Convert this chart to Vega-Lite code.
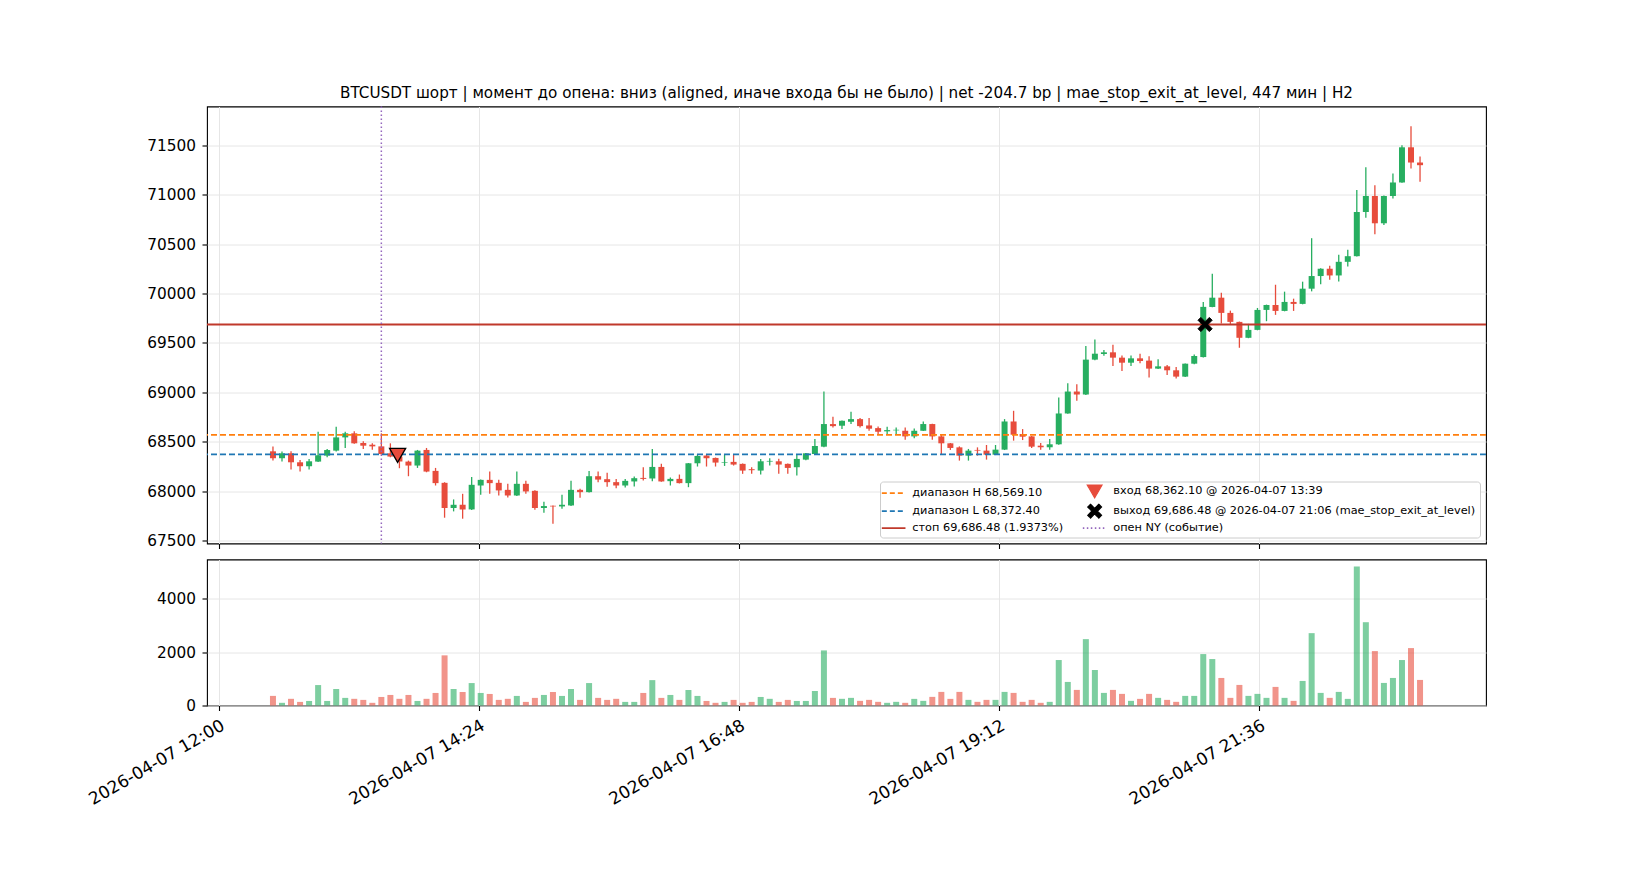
{
  "$schema": "https://vega.github.io/schema/vega-lite/v6.json",
  "background": "white",
  "padding": {"left": 85, "top": 84.5, "right": 10, "bottom": 10},
  "spacing": 16,
  "bounds": "flush",
  "datasets": {
    "candles": [
      {"t": "2026-04-07 12:30", "o": 68403, "h": 68453, "l": 68309, "c": 68333, "v": 360},
      {"t": "2026-04-07 12:35", "o": 68333, "h": 68400, "l": 68299, "c": 68383, "v": 100},
      {"t": "2026-04-07 12:40", "o": 68383, "h": 68403, "l": 68218, "c": 68292, "v": 250},
      {"t": "2026-04-07 12:45", "o": 68292, "h": 68316, "l": 68198, "c": 68252, "v": 135},
      {"t": "2026-04-07 12:50", "o": 68252, "h": 68326, "l": 68218, "c": 68302, "v": 170},
      {"t": "2026-04-07 12:55", "o": 68299, "h": 68601, "l": 68296, "c": 68363, "v": 765},
      {"t": "2026-04-07 13:00", "o": 68359, "h": 68427, "l": 68343, "c": 68416, "v": 170},
      {"t": "2026-04-07 13:05", "o": 68410, "h": 68652, "l": 68400, "c": 68544, "v": 617},
      {"t": "2026-04-07 13:10", "o": 68544, "h": 68601, "l": 68437, "c": 68585, "v": 285},
      {"t": "2026-04-07 13:15", "o": 68585, "h": 68605, "l": 68480, "c": 68484, "v": 250},
      {"t": "2026-04-07 13:20", "o": 68487, "h": 68504, "l": 68427, "c": 68460, "v": 210},
      {"t": "2026-04-07 13:25", "o": 68470, "h": 68484, "l": 68420, "c": 68453, "v": 100},
      {"t": "2026-04-07 13:30", "o": 68453, "h": 68585, "l": 68369, "c": 68376, "v": 320},
      {"t": "2026-04-07 13:35", "o": 68383, "h": 68484, "l": 68343, "c": 68350, "v": 395},
      {"t": "2026-04-07 13:40", "o": 68350, "h": 68380, "l": 68232, "c": 68300, "v": 250},
      {"t": "2026-04-07 13:45", "o": 68299, "h": 68309, "l": 68151, "c": 68259, "v": 395},
      {"t": "2026-04-07 13:50", "o": 68259, "h": 68417, "l": 68235, "c": 68410, "v": 170},
      {"t": "2026-04-07 13:55", "o": 68417, "h": 68437, "l": 68191, "c": 68198, "v": 250},
      {"t": "2026-04-07 14:00", "o": 68205, "h": 68235, "l": 68057, "c": 68081, "v": 470},
      {"t": "2026-04-07 14:05", "o": 68084, "h": 68090, "l": 67731, "c": 67829, "v": 1877},
      {"t": "2026-04-07 14:10", "o": 67829, "h": 67916, "l": 67795, "c": 67862, "v": 617},
      {"t": "2026-04-07 14:15", "o": 67862, "h": 67973, "l": 67721, "c": 67815, "v": 506},
      {"t": "2026-04-07 14:20", "o": 67815, "h": 68144, "l": 67810, "c": 68064, "v": 840},
      {"t": "2026-04-07 14:25", "o": 68057, "h": 68118, "l": 67963, "c": 68114, "v": 470},
      {"t": "2026-04-07 14:30", "o": 68114, "h": 68198, "l": 67973, "c": 68081, "v": 432},
      {"t": "2026-04-07 14:35", "o": 68084, "h": 68114, "l": 67956, "c": 68007, "v": 210},
      {"t": "2026-04-07 14:40", "o": 68013, "h": 68074, "l": 67936, "c": 67956, "v": 250},
      {"t": "2026-04-07 14:45", "o": 67956, "h": 68198, "l": 67950, "c": 68074, "v": 358},
      {"t": "2026-04-07 14:50", "o": 68074, "h": 68104, "l": 67973, "c": 67997, "v": 135},
      {"t": "2026-04-07 14:55", "o": 68003, "h": 68010, "l": 67812, "c": 67829, "v": 285},
      {"t": "2026-04-07 15:00", "o": 67829, "h": 67892, "l": 67781, "c": 67849, "v": 395},
      {"t": "2026-04-07 15:05", "o": 67852, "h": 67855, "l": 67671, "c": 67845, "v": 506},
      {"t": "2026-04-07 15:10", "o": 67845, "h": 67963, "l": 67822, "c": 67862, "v": 358},
      {"t": "2026-04-07 15:15", "o": 67855, "h": 68104, "l": 67850, "c": 68013, "v": 617},
      {"t": "2026-04-07 15:20", "o": 68013, "h": 68023, "l": 67933, "c": 67990, "v": 210},
      {"t": "2026-04-07 15:25", "o": 67990, "h": 68205, "l": 67985, "c": 68151, "v": 840},
      {"t": "2026-04-07 15:30", "o": 68151, "h": 68198, "l": 68091, "c": 68117, "v": 285},
      {"t": "2026-04-07 15:35", "o": 68121, "h": 68185, "l": 68044, "c": 68091, "v": 210},
      {"t": "2026-04-07 15:40", "o": 68091, "h": 68124, "l": 68030, "c": 68057, "v": 250},
      {"t": "2026-04-07 15:45", "o": 68057, "h": 68124, "l": 68037, "c": 68104, "v": 135},
      {"t": "2026-04-07 15:50", "o": 68098, "h": 68148, "l": 68047, "c": 68131, "v": 135},
      {"t": "2026-04-07 15:55", "o": 68134, "h": 68242, "l": 68108, "c": 68124, "v": 470},
      {"t": "2026-04-07 16:00", "o": 68128, "h": 68427, "l": 68101, "c": 68245, "v": 950},
      {"t": "2026-04-07 16:05", "o": 68245, "h": 68276, "l": 68095, "c": 68098, "v": 285},
      {"t": "2026-04-07 16:10", "o": 68101, "h": 68138, "l": 68057, "c": 68124, "v": 395},
      {"t": "2026-04-07 16:15", "o": 68124, "h": 68168, "l": 68078, "c": 68081, "v": 210},
      {"t": "2026-04-07 16:20", "o": 68081, "h": 68285, "l": 68040, "c": 68282, "v": 580},
      {"t": "2026-04-07 16:25", "o": 68282, "h": 68370, "l": 68249, "c": 68356, "v": 358},
      {"t": "2026-04-07 16:30", "o": 68360, "h": 68370, "l": 68249, "c": 68333, "v": 170},
      {"t": "2026-04-07 16:35", "o": 68336, "h": 68340, "l": 68249, "c": 68289, "v": 100},
      {"t": "2026-04-07 16:40", "o": 68286, "h": 68370, "l": 68255, "c": 68292, "v": 135},
      {"t": "2026-04-07 16:45", "o": 68296, "h": 68370, "l": 68259, "c": 68269, "v": 210},
      {"t": "2026-04-07 16:50", "o": 68276, "h": 68280, "l": 68175, "c": 68208, "v": 100},
      {"t": "2026-04-07 16:55", "o": 68222, "h": 68242, "l": 68175, "c": 68212, "v": 135},
      {"t": "2026-04-07 17:00", "o": 68208, "h": 68326, "l": 68168, "c": 68302, "v": 320},
      {"t": "2026-04-07 17:05", "o": 68299, "h": 68333, "l": 68259, "c": 68306, "v": 250},
      {"t": "2026-04-07 17:10", "o": 68302, "h": 68329, "l": 68175, "c": 68269, "v": 135},
      {"t": "2026-04-07 17:15", "o": 68276, "h": 68280, "l": 68175, "c": 68235, "v": 210},
      {"t": "2026-04-07 17:20", "o": 68242, "h": 68366, "l": 68158, "c": 68326, "v": 170},
      {"t": "2026-04-07 17:25", "o": 68319, "h": 68386, "l": 68313, "c": 68383, "v": 170},
      {"t": "2026-04-07 17:30", "o": 68376, "h": 68528, "l": 68372, "c": 68457, "v": 543},
      {"t": "2026-04-07 17:35", "o": 68450, "h": 69008, "l": 68445, "c": 68679, "v": 2062},
      {"t": "2026-04-07 17:40", "o": 68679, "h": 68753, "l": 68645, "c": 68658, "v": 285},
      {"t": "2026-04-07 17:45", "o": 68662, "h": 68715, "l": 68628, "c": 68712, "v": 250},
      {"t": "2026-04-07 17:50", "o": 68702, "h": 68803, "l": 68679, "c": 68729, "v": 286},
      {"t": "2026-04-07 17:55", "o": 68729, "h": 68739, "l": 68645, "c": 68658, "v": 174},
      {"t": "2026-04-07 18:00", "o": 68665, "h": 68739, "l": 68611, "c": 68632, "v": 211},
      {"t": "2026-04-07 18:05", "o": 68638, "h": 68655, "l": 68578, "c": 68601, "v": 137},
      {"t": "2026-04-07 18:10", "o": 68605, "h": 68652, "l": 68571, "c": 68618, "v": 100},
      {"t": "2026-04-07 18:15", "o": 68615, "h": 68645, "l": 68571, "c": 68621, "v": 137},
      {"t": "2026-04-07 18:20", "o": 68611, "h": 68645, "l": 68521, "c": 68554, "v": 100},
      {"t": "2026-04-07 18:25", "o": 68554, "h": 68635, "l": 68534, "c": 68611, "v": 248},
      {"t": "2026-04-07 18:30", "o": 68611, "h": 68705, "l": 68608, "c": 68679, "v": 174},
      {"t": "2026-04-07 18:35", "o": 68679, "h": 68682, "l": 68521, "c": 68554, "v": 323},
      {"t": "2026-04-07 18:40", "o": 68554, "h": 68578, "l": 68376, "c": 68484, "v": 509},
      {"t": "2026-04-07 18:45", "o": 68484, "h": 68487, "l": 68417, "c": 68437, "v": 248},
      {"t": "2026-04-07 18:50", "o": 68443, "h": 68453, "l": 68309, "c": 68359, "v": 509},
      {"t": "2026-04-07 18:55", "o": 68359, "h": 68427, "l": 68309, "c": 68410, "v": 211},
      {"t": "2026-04-07 19:00", "o": 68417, "h": 68443, "l": 68359, "c": 68410, "v": 137},
      {"t": "2026-04-07 19:05", "o": 68410, "h": 68467, "l": 68319, "c": 68369, "v": 211},
      {"t": "2026-04-07 19:10", "o": 68369, "h": 68467, "l": 68365, "c": 68420, "v": 211},
      {"t": "2026-04-07 19:15", "o": 68420, "h": 68729, "l": 68416, "c": 68705, "v": 509},
      {"t": "2026-04-07 19:20", "o": 68705, "h": 68813, "l": 68511, "c": 68571, "v": 472},
      {"t": "2026-04-07 19:25", "o": 68578, "h": 68628, "l": 68517, "c": 68551, "v": 137},
      {"t": "2026-04-07 19:30", "o": 68554, "h": 68558, "l": 68437, "c": 68450, "v": 211},
      {"t": "2026-04-07 19:35", "o": 68460, "h": 68487, "l": 68420, "c": 68444, "v": 100},
      {"t": "2026-04-07 19:40", "o": 68444, "h": 68528, "l": 68420, "c": 68474, "v": 137},
      {"t": "2026-04-07 19:45", "o": 68474, "h": 68948, "l": 68470, "c": 68786, "v": 1702},
      {"t": "2026-04-07 19:50", "o": 68786, "h": 69092, "l": 68782, "c": 69008, "v": 882},
      {"t": "2026-04-07 19:55", "o": 69008, "h": 69082, "l": 68914, "c": 68978, "v": 584},
      {"t": "2026-04-07 20:00", "o": 68978, "h": 69468, "l": 68974, "c": 69331, "v": 2484},
      {"t": "2026-04-07 20:05", "o": 69331, "h": 69536, "l": 69324, "c": 69391, "v": 1329},
      {"t": "2026-04-07 20:10", "o": 69388, "h": 69428, "l": 69371, "c": 69405, "v": 472},
      {"t": "2026-04-07 20:15", "o": 69405, "h": 69482, "l": 69267, "c": 69351, "v": 584},
      {"t": "2026-04-07 20:20", "o": 69351, "h": 69374, "l": 69216, "c": 69300, "v": 435},
      {"t": "2026-04-07 20:25", "o": 69300, "h": 69374, "l": 69267, "c": 69344, "v": 174},
      {"t": "2026-04-07 20:30", "o": 69344, "h": 69391, "l": 69294, "c": 69317, "v": 248},
      {"t": "2026-04-07 20:35", "o": 69321, "h": 69364, "l": 69149, "c": 69240, "v": 435},
      {"t": "2026-04-07 20:40", "o": 69240, "h": 69334, "l": 69236, "c": 69263, "v": 286},
      {"t": "2026-04-07 20:45", "o": 69263, "h": 69277, "l": 69176, "c": 69223, "v": 211},
      {"t": "2026-04-07 20:50", "o": 69223, "h": 69257, "l": 69139, "c": 69159, "v": 137},
      {"t": "2026-04-07 20:55", "o": 69159, "h": 69293, "l": 69155, "c": 69290, "v": 360},
      {"t": "2026-04-07 21:00", "o": 69290, "h": 69384, "l": 69284, "c": 69368, "v": 360},
      {"t": "2026-04-07 21:05", "o": 69357, "h": 69915, "l": 69353, "c": 69865, "v": 1925},
      {"t": "2026-04-07 21:10", "o": 69864, "h": 70200, "l": 69860, "c": 69958, "v": 1739},
      {"t": "2026-04-07 21:15", "o": 69958, "h": 70009, "l": 69696, "c": 69804, "v": 1031},
      {"t": "2026-04-07 21:20", "o": 69804, "h": 69827, "l": 69693, "c": 69713, "v": 286},
      {"t": "2026-04-07 21:25", "o": 69713, "h": 69716, "l": 69451, "c": 69552, "v": 770},
      {"t": "2026-04-07 21:30", "o": 69552, "h": 69693, "l": 69548, "c": 69632, "v": 360},
      {"t": "2026-04-07 21:35", "o": 69632, "h": 69854, "l": 69628, "c": 69834, "v": 435},
      {"t": "2026-04-07 21:40", "o": 69834, "h": 69888, "l": 69720, "c": 69884, "v": 286},
      {"t": "2026-04-07 21:45", "o": 69884, "h": 70089, "l": 69784, "c": 69824, "v": 696},
      {"t": "2026-04-07 21:50", "o": 69824, "h": 70019, "l": 69820, "c": 69915, "v": 286},
      {"t": "2026-04-07 21:55", "o": 69915, "h": 69948, "l": 69824, "c": 69895, "v": 174},
      {"t": "2026-04-07 22:00", "o": 69895, "h": 70120, "l": 69891, "c": 70049, "v": 919},
      {"t": "2026-04-07 22:05", "o": 70049, "h": 70560, "l": 70022, "c": 70177, "v": 2708},
      {"t": "2026-04-07 22:10", "o": 70177, "h": 70255, "l": 70093, "c": 70251, "v": 472},
      {"t": "2026-04-07 22:15", "o": 70251, "h": 70281, "l": 70140, "c": 70183, "v": 286},
      {"t": "2026-04-07 22:20", "o": 70183, "h": 70392, "l": 70123, "c": 70321, "v": 509},
      {"t": "2026-04-07 22:25", "o": 70321, "h": 70442, "l": 70274, "c": 70378, "v": 248},
      {"t": "2026-04-07 22:30", "o": 70378, "h": 71047, "l": 70374, "c": 70825, "v": 5205},
      {"t": "2026-04-07 22:35", "o": 70825, "h": 71279, "l": 70768, "c": 70987, "v": 3118},
      {"t": "2026-04-07 22:40", "o": 70987, "h": 71097, "l": 70600, "c": 70711, "v": 2037},
      {"t": "2026-04-07 22:45", "o": 70711, "h": 70991, "l": 70694, "c": 70987, "v": 845},
      {"t": "2026-04-07 22:50", "o": 70987, "h": 71215, "l": 70963, "c": 71124, "v": 1031},
      {"t": "2026-04-07 22:55", "o": 71124, "h": 71501, "l": 71120, "c": 71480, "v": 1702},
      {"t": "2026-04-07 23:00", "o": 71480, "h": 71692, "l": 71265, "c": 71326, "v": 2149},
      {"t": "2026-04-07 23:05", "o": 71326, "h": 71386, "l": 71131, "c": 71299, "v": 957}
    ],
    "levels": [
      {"key": "H", "price": 68569.1},
      {"key": "L", "price": 68372.4},
      {"key": "stop", "price": 69686.48}
    ],
    "events": [
      {"key": "ny", "t": "2026-04-07 13:30"}
    ],
    "trades": [
      {"key": "entry", "t": "2026-04-07 13:39", "price": 68362.1},
      {"key": "exit", "t": "2026-04-07 21:06", "price": 69686.48}
    ]
  },
  "vconcat": [
    {
      "width": 1279,
      "height": 437,
      "title": {
        "text": "BTCUSDT шорт | момент до опена: вниз (aligned, иначе входа бы не было) | net -204.7 bp | mae_stop_exit_at_level, 447 мин | H2",
        "anchor": "middle",
        "frame": "group",
        "offset": 5
      },
      "layer": [
        {
          "data": {"name": "candles"},
          "mark": {"type": "rule", "strokeWidth": 1.3},
          "encoding": {
            "x": {
              "field": "t", "type": "temporal", "title": null,
              "scale": {"domain": [{"year": 2026, "month": 4, "date": 7, "hours": 11, "minutes": 56, "seconds": 15}, {"year": 2026, "month": 4, "date": 7, "hours": 23, "minutes": 38, "seconds": 45}], "nice": false},
              "axis": {
                "values": [
                  {"year": 2026, "month": 4, "date": 7, "hours": 12, "minutes": 0},
                  {"year": 2026, "month": 4, "date": 7, "hours": 14, "minutes": 24},
                  {"year": 2026, "month": 4, "date": 7, "hours": 16, "minutes": 48},
                  {"year": 2026, "month": 4, "date": 7, "hours": 19, "minutes": 12},
                  {"year": 2026, "month": 4, "date": 7, "hours": 21, "minutes": 36}
                ],
                "labels": false, "ticks": true, "grid": true
              }
            },
            "y": {
              "field": "l", "type": "quantitative", "title": null,
              "scale": {"domain": [67470, 71893], "nice": false, "zero": false},
              "axis": {"values": [67500, 68000, 68500, 69000, 69500, 70000, 70500, 71000, 71500], "format": "d"}
            },
            "y2": {"field": "h"},
            "color": {"condition": {"test": "datum.c >= datum.o", "value": "#27ae60"}, "value": "#e74c3c"}
          }
        },
        {
          "data": {"name": "candles"},
          "mark": {"type": "bar", "size": 6},
          "encoding": {
            "x": {"field": "t", "type": "temporal", "scale": {"domain": [{"year": 2026, "month": 4, "date": 7, "hours": 11, "minutes": 56, "seconds": 15}, {"year": 2026, "month": 4, "date": 7, "hours": 23, "minutes": 38, "seconds": 45}], "nice": false}},
            "y": {"field": "o", "type": "quantitative", "scale": {"domain": [67470, 71893], "nice": false, "zero": false}},
            "y2": {"field": "c"},
            "color": {"condition": {"test": "datum.c >= datum.o", "value": "#27ae60"}, "value": "#e74c3c"}
          }
        },
        {
          "data": {"name": "levels"},
          "mark": {"type": "rule", "strokeWidth": 1.8},
          "encoding": {
            "y": {"field": "price", "type": "quantitative", "scale": {"domain": [67470, 71893], "nice": false, "zero": false}},
            "color": {
              "field": "key", "type": "nominal",
              "scale": {"domain": ["H", "L", "stop", "entry", "exit", "ny"], "range": ["#ff7f0e", "#1f77b4", "#c0392b", "#e74c3c", "#000000", "#9467bd"]},
              "legend": {
                "orient": "bottom-right",
                "offset": 6,
                "columns": 2,
                "direction": "vertical",
                "title": null,
                "fillColor": "#ffffff",
                "strokeColor": "#cccccc",
                "cornerRadius": 3,
                "padding": 4,
                "rowPadding": 1,
                "columnPadding": 15,
                "labelFontSize": 11.3,
                "labelOffset": 13,
                "labelLimit": 500,
                "symbolSize": 300,
                "symbolOffset": 4,
                "labelExpr": "datum.value == 'H' ? 'диапазон H 68,569.10' : datum.value == 'L' ? 'диапазон L 68,372.40' : datum.value == 'stop' ? 'стоп 69,686.48 (1.9373%)' : datum.value == 'entry' ? 'вход 68,362.10 @ 2026-04-07 13:39' : datum.value == 'exit' ? 'выход 69,686.48 @ 2026-04-07 21:06 (mae_stop_exit_at_level)' : 'опен NY (событие)'",
                "encode": {
                  "symbols": {
                    "update": {
                      "shape": {"signal": "datum.value == 'entry' ? 'triangle-down' : datum.value == 'exit' ? 'M-1,-0.6L-0.6,-1L0,-0.4L0.6,-1L1,-0.6L0.4,0L1,0.6L0.6,1L0,0.4L-0.6,1L-1,0.6L-0.4,0Z' : 'stroke'"},
                      "fill": {"signal": "datum.value == 'entry' ? '#e74c3c' : datum.value == 'exit' ? '#000000' : 'transparent'"},
                      "stroke": {"signal": "datum.value == 'H' ? '#ff7f0e' : datum.value == 'L' ? '#1f77b4' : datum.value == 'stop' ? '#c0392b' : datum.value == 'ny' ? '#9467bd' : '#000000'"},
                      "strokeDash": {"signal": "datum.value == 'H' || datum.value == 'L' ? [5, 3] : datum.value == 'ny' ? [1.5, 2.5] : [1, 0]"},
                      "strokeWidth": {"signal": "datum.value == 'entry' || datum.value == 'exit' ? 1.2 : 1.8"},
                      "size": {"signal": "datum.value == 'entry' ? 220 : datum.value == 'exit' ? 190 : 560"},
                      "opacity": {"value": 1}
                    }
                  }
                }
              }
            },
            "strokeDash": {
              "field": "key", "type": "nominal",
              "scale": {"domain": ["H", "L", "stop"], "range": [[6, 3], [6, 3], [1, 0]]},
              "legend": null
            }
          }
        },
        {
          "data": {"name": "events"},
          "mark": {"type": "rule", "strokeWidth": 1.5, "strokeDash": [1.5, 2.5], "color": "#9467bd"},
          "encoding": {
            "x": {"field": "t", "type": "temporal", "scale": {"domain": [{"year": 2026, "month": 4, "date": 7, "hours": 11, "minutes": 56, "seconds": 15}, {"year": 2026, "month": 4, "date": 7, "hours": 23, "minutes": 38, "seconds": 45}], "nice": false}}
          }
        },
        {
          "data": {"name": "trades"},
          "transform": [{"filter": "datum.key == 'entry'"}],
          "mark": {"type": "point", "shape": "triangle-down", "filled": true, "fill": "#e74c3c", "stroke": "#000000", "strokeWidth": 1.3, "size": 260, "opacity": 1},
          "encoding": {
            "x": {"field": "t", "type": "temporal", "scale": {"domain": [{"year": 2026, "month": 4, "date": 7, "hours": 11, "minutes": 56, "seconds": 15}, {"year": 2026, "month": 4, "date": 7, "hours": 23, "minutes": 38, "seconds": 45}], "nice": false}},
            "y": {"field": "price", "type": "quantitative", "scale": {"domain": [67470, 71893], "nice": false, "zero": false}}
          }
        },
        {
          "data": {"name": "trades"},
          "transform": [{"filter": "datum.key == 'exit'"}],
          "mark": {"type": "point", "shape": "M-1,-0.6L-0.6,-1L0,-0.4L0.6,-1L1,-0.6L0.4,0L1,0.6L0.6,1L0,0.4L-0.6,1L-1,0.6L-0.4,0Z", "filled": true, "fill": "#000000", "stroke": "#000000", "strokeWidth": 1, "size": 200, "opacity": 1},
          "encoding": {
            "x": {"field": "t", "type": "temporal", "scale": {"domain": [{"year": 2026, "month": 4, "date": 7, "hours": 11, "minutes": 56, "seconds": 15}, {"year": 2026, "month": 4, "date": 7, "hours": 23, "minutes": 38, "seconds": 45}], "nice": false}},
            "y": {"field": "price", "type": "quantitative", "scale": {"domain": [67470, 71893], "nice": false, "zero": false}}
          }
        }
      ]
    },
    {
      "width": 1279,
      "height": 146,
      "data": {"name": "candles"},
      "mark": {"type": "bar", "size": 6, "opacity": 0.6},
      "encoding": {
        "x": {
          "field": "t", "type": "temporal", "title": null,
          "scale": {"domain": [{"year": 2026, "month": 4, "date": 7, "hours": 11, "minutes": 56, "seconds": 15}, {"year": 2026, "month": 4, "date": 7, "hours": 23, "minutes": 38, "seconds": 45}], "nice": false},
          "axis": {
            "values": [
              {"year": 2026, "month": 4, "date": 7, "hours": 12, "minutes": 0},
              {"year": 2026, "month": 4, "date": 7, "hours": 14, "minutes": 24},
              {"year": 2026, "month": 4, "date": 7, "hours": 16, "minutes": 48},
              {"year": 2026, "month": 4, "date": 7, "hours": 19, "minutes": 12},
              {"year": 2026, "month": 4, "date": 7, "hours": 21, "minutes": 36}
            ],
            "format": "%Y-%m-%d %H:%M",
            "labelAngle": -30,
            "labelAlign": "right",
            "labelBaseline": "top",
            "labelFontSize": 17,
            "labelDx": -11.9,
            "labelDy": -10.35,
            "labelOverlap": false,
            "labelBound": false,
            "labelFlush": false,
            "grid": true
          }
        },
        "y": {
          "field": "v", "type": "quantitative", "title": null,
          "scale": {"domain": [0, 5465], "nice": false},
          "axis": {"values": [0, 2000, 4000], "format": "d"}
        },
        "color": {"condition": {"test": "datum.c >= datum.o", "value": "#27ae60"}, "value": "#e74c3c"}
      }
    }
  ],
  "resolve": {"scale": {"color": "independent"}, "legend": {"color": "independent"}},
  "config": {
    "font": "DejaVu Sans",
    "view": {"stroke": "#000000", "strokeWidth": 1.1},
    "axis": {
      "domain": false,
      "tickColor": "#000000",
      "tickSize": 5,
      "tickWidth": 1.1,
      "labelColor": "#000000",
      "labelFont": "DejaVu Sans",
      "labelFontSize": 15.3,
      "labelPadding": 6.5,
      "gridColor": "#e6e6e6",
      "gridWidth": 1
    },
    "legend": {"labelFont": "DejaVu Sans", "labelColor": "#000000"},
    "title": {"font": "DejaVu Sans", "fontSize": 15.2, "fontWeight": "normal", "color": "#000000"}
  }
}
